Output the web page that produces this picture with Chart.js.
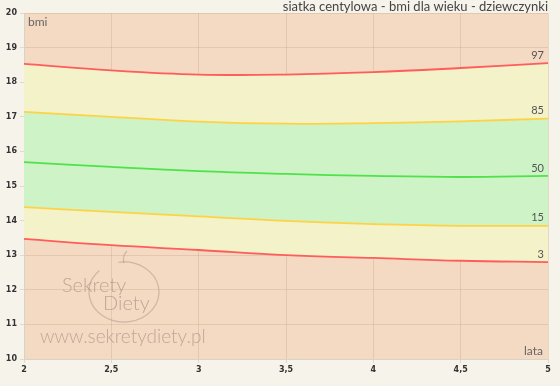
<!DOCTYPE html>
<html>
<head>
<meta charset="utf-8">
<script src="https://cdn.jsdelivr.net/npm/chart.js@4/dist/chart.umd.min.js"></script>
<style>
  html, body { margin: 0; padding: 0; background: #f6f3eb; }
  #wrap { width: 560px; height: 386px; position: relative; }
</style>
</head>
<body>
<div id="wrap"><canvas id="chart" width="560" height="386"></canvas></div>
<script>
// wiek w latach
const ages = [2, 2.5, 3, 3.5, 4, 4.5, 5];
// centyle bmi
const p3  = [13.47, 13.29, 13.15, 13.0, 12.92, 12.84, 12.8];
const p15 = [14.39, 14.25, 14.12, 13.99, 13.9, 13.85, 13.85];
const p50 = [15.69, 15.55, 15.43, 15.35, 15.29, 15.26, 15.29];
const p85 = [17.14, 17.0, 16.86, 16.8, 16.82, 16.87, 16.95];
const p97 = [18.53, 18.34, 18.22, 18.22, 18.29, 18.41, 18.55];
const centileNames = ["3", "15", "50", "85", "97"];

const pts = arr => arr.map((v, i) => ({ x: ages[i], y: v }));

const bgPlugin = {
  id: "bg",
  beforeDraw(chart) {
    const { ctx, chartArea: a } = chart;
    ctx.save();
    ctx.fillStyle = "#f4d9c3";
    ctx.fillRect(a.left, a.top, a.right - a.left, a.bottom - a.top);
    ctx.restore();
  },
  afterDraw(chart) {
    const { ctx, chartArea: a, scales } = chart;
    ctx.save();
    // title
    ctx.fillStyle = "#444";
    ctx.font = "13px Lato";
    ctx.textAlign = "right";
    ctx.textBaseline = "middle";
    ctx.fillText("siatka centylowa - bmi dla wieku - dziewczynki", 548, 7);
    // axis names
    ctx.fillStyle = "#666";
    ctx.font = "12px Lato";
    ctx.textAlign = "left";
    ctx.fillText("bmi", a.left + 4, a.top + 9);
    ctx.textAlign = "right";
    ctx.fillText("lata", a.right - 5, a.bottom - 8);
    // centile labels
    ctx.fillStyle = "#555";
    ctx.font = "11px Lato";
    chart.data.datasets.forEach((ds, i) => {
      const last = ds.data[ds.data.length - 1];
      ctx.fillText(centileNames[i], a.right - 4, scales.y.getPixelForValue(last.y) - 8);
    });
    // watermark
    ctx.strokeStyle = "rgba(150,130,115,0.4)";
    ctx.lineWidth = 1.2;
    ctx.beginPath();
    ctx.ellipse(124, 292, 35, 30, 0, Math.PI * 1.45, Math.PI * 1.25, false);
    ctx.stroke();
    ctx.beginPath();
    ctx.moveTo(124, 263);
    ctx.quadraticCurveTo(122, 256, 127, 251);
    ctx.stroke();
    ctx.fillStyle = "rgba(140,120,105,0.5)";
    ctx.font = "300 20px Lato";
    ctx.textAlign = "left";
    ctx.textBaseline = "alphabetic";
    ctx.fillText("Sekrety", 62, 292);
    ctx.fillText("Diety", 103, 310);
    ctx.font = "300 19px Lato";
    ctx.fillText("www.sekretydiety.pl", 40, 343);
    ctx.restore();
  }
};

new Chart(document.getElementById("chart"), {
  type: "line",
  data: {
    datasets: [
      { data: pts(p3),  borderColor: "#ff5c5c", fill: "+1", backgroundColor: "#f3f2c8" },
      { data: pts(p15), borderColor: "#ffd246", fill: "+2", backgroundColor: "#cdf3c6" },
      { data: pts(p50), borderColor: "#4fe24b", fill: false },
      { data: pts(p85), borderColor: "#ffd246", fill: "+1", backgroundColor: "#f3f2c8" },
      { data: pts(p97), borderColor: "#ff5c5c", fill: false }
    ]
  },
  options: {
    responsive: false,
    animation: false,
    devicePixelRatio: 1,
    layout: { padding: { top: 13, right: 12, left: 0, bottom: 0 } },
    elements: {
      line: { borderWidth: 1.8, tension: 0.4 },
      point: { radius: 0 }
    },
    plugins: {
      legend: { display: false },
      tooltip: { enabled: false },
      filler: { drawTime: "beforeDatasetsDraw" }
    },
    scales: {
      x: {
        type: "linear", min: 2, max: 5,
        afterFit(s) { s.height = 27; },
        ticks: {
          stepSize: 0.5, color: "#333", padding: 2,
          font: { family: "DejaVu Sans", size: 8, weight: "bold" },
          callback: v => String(v).replace(".", ",")
        },
        grid: { color: "rgba(200,165,130,0.35)", tickLength: 4 },
        border: { color: "#d9d2c6" }
      },
      y: {
        min: 10, max: 20,
        afterFit(s) { s.width = 24; },
        ticks: {
          stepSize: 1, color: "#333", padding: 3,
          font: { family: "DejaVu Sans", size: 8, weight: "bold" }
        },
        grid: { color: "rgba(200,165,130,0.35)", tickLength: 4 },
        border: { color: "#d9d2c6" }
      }
    }
  },
  plugins: [bgPlugin]
});
</script>
</body>
</html>
